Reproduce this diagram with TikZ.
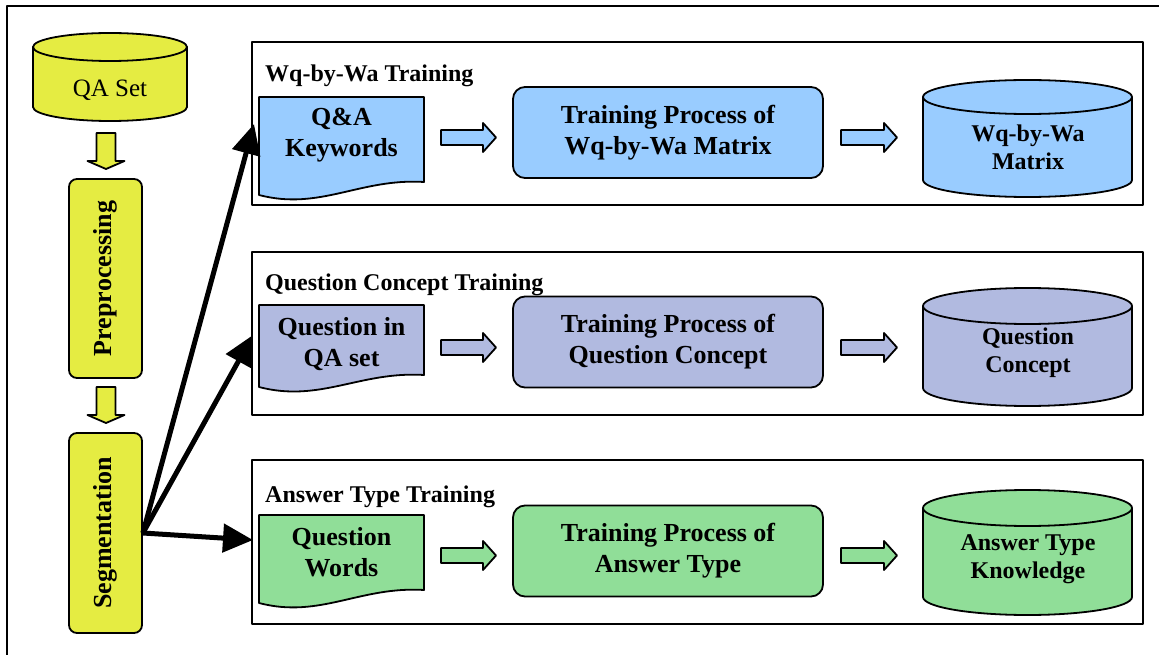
\documentclass[tikz,border=0pt]{standalone}
\usepackage{fontspec}
\setmainfont{Liberation Serif}
\usetikzlibrary{arrows.meta}
\definecolor{ylw}{RGB}{229,236,66}
\definecolor{blu}{RGB}{153,204,255}
\definecolor{lav}{RGB}{177,186,224}
\definecolor{grn}{RGB}{144,222,152}
\newcommand{\myboxfont}{\fontsize{26}{31}\selectfont\bfseries}
\newcommand{\mycylfont}{\fontsize{24}{28}\selectfont\bfseries}
\newcommand{\mytitlefont}{\fontsize{24}{28}\selectfont\bfseries}
\newcommand{\myqafont}{\fontsize{25}{29}\selectfont}
% cylinder: cx rx ytop ybottom ry colour
\newcommand{\mycyl}[6]{%
  \draw[shapeline, fill=#6] ({#1-#2},#3) -- ({#1-#2},#4) arc[start angle=180, end angle=0, x radius=#2, y radius=#5] -- ({#1+#2},#3);
  \draw[shapeline, fill=#6] (#1,#3) ellipse[x radius=#2, y radius=#5];}
% document shape: top, right-bottom, left-bottom, colour
\newcommand{\mydoc}[4]{%
  \draw[shapeline, fill=#4] (259,#1) -- (424,#1) -- (424,#2) .. controls (360,{#2-4}) and (320,{#3+16}) .. (259,#3) -- cycle;}
% right block arrow: x left, x tip, y centre, colour
\newcommand{\myrarrow}[4]{%
  \draw[shapeline, fill=#4] (#1,{#3-7.5}) -- ({#2-13},{#3-7.5}) -- ({#2-13},{#3-14.5}) -- (#2,#3) -- ({#2-13},{#3+14.5}) -- ({#2-13},{#3+7.5}) -- (#1,{#3+7.5}) -- cycle;}
% down block arrow: y top, y head, y tip
\newcommand{\mydarrow}[3]{%
  \draw[shapeline, fill=ylw] (96.5,#1) -- (115.5,#1) -- (115.5,#2) -- (124.5,#2) -- (106,#3) -- (87.5,#2) -- (96.5,#2) -- cycle;}
\tikzset{
  shapeline/.style={draw=black, line width=1.8},
  panel/.style={draw=black, line width=2, fill=white},
  proc/.style={shapeline, rounded corners=12, minimum width=310, minimum height=91, inner sep=0, align=center, font=\myboxfont},
  vbox/.style={shapeline, fill=ylw, rounded corners=8, minimum width=73, inner sep=0, font=\myboxfont},
  txt/.style={align=center, inner sep=0, font=\myboxfont},
  cyltxt/.style={align=center, inner sep=0, font=\mycylfont},
  ttl/.style={anchor=base west, inner sep=0, font=\mytitlefont},
  bigarrow/.style={line width=5, -{Triangle[length=30pt,width=28pt]}},
}
\begin{document}
\begin{tikzpicture}[x=1pt, y=-1pt, line join=round]
\useasboundingbox (0,0) rectangle (1159,655);
\clip (0,0) rectangle (1159,655);
\fill[white] (0,0) rectangle (1159,655);
\draw[line width=2] (7,6) rectangle (1220,720);

% ---------- left column ----------
\mycyl{110}{77}{47}{107}{14}{ylw}
\node[inner sep=0, font=\myqafont] (qa) at (110,90) {QA Set};
\mydarrow{133}{161}{169}
\node[vbox, minimum height=199] (pre) at (105.5,278.5) {\rotatebox{90}{Preprocessing}};
\mydarrow{387}{415}{423}
\node[vbox, minimum height=200] (seg) at (105.5,533) {\rotatebox{90}{Segmentation}};

% ---------- panel 1 ----------
\node[panel, anchor=north west, minimum width=891, minimum height=163] (pan1) at (251,41) {};
\node[ttl] (ttl1) at (265,82) {Wq-by-Wa Training};
\mydoc{97}{182}{195}{blu}
\node[txt] (d1) at (341.5,135.5) {Q\&A\\Keywords};
\myrarrow{441}{496}{137.5}{blu}
\node[proc, fill=blu] (tp1) at (668,132.5) {Training Process of\\Wq-by-Wa Matrix};
\myrarrow{841}{897}{137.5}{blu}
\mycyl{1027.5}{104.5}{97}{180}{17}{blu}
\node[cyltxt] (c1) at (1028,147.5) {Wq-by-Wa\\Matrix};

% ---------- panel 2 ----------
\node[panel, anchor=north west, minimum width=891, minimum height=163] (pan2) at (251,251) {};
\node[ttl] (ttl2) at (265,290) {Question Concept Training};
\mydoc{305}{375}{387}{lav}
\node[txt] (d2) at (341.5,344) {Question in\\QA set};
\myrarrow{441}{496}{347.5}{lav}
\node[proc, fill=lav] (tp2) at (668,342) {Training Process of\\Question Concept};
\myrarrow{841}{897}{347.5}{lav}
\mycyl{1027.5}{104.5}{306}{388}{18}{lav}
\node[cyltxt] (c2) at (1028,352.5) {Question\\Concept};

% ---------- panel 3 ----------
\node[panel, anchor=north west, minimum width=891, minimum height=164] (pan3) at (251,459) {};
\node[ttl] (ttl3) at (265,502) {Answer Type Training};
\mydoc{515}{590}{603}{grn}
\node[txt] (d3) at (341.5,552.5) {Question\\Words};
\myrarrow{441}{496}{555.5}{grn}
\node[proc, fill=grn] (tp3) at (668,551) {Training Process of\\Answer Type};
\myrarrow{841}{897}{555.5}{grn}
\mycyl{1027.5}{104.5}{508}{597}{18}{grn}
\node[cyltxt] (c3) at (1028,559) {Answer Type\\Knowledge};

% ---------- connectors ----------
\coordinate (tip1) at (254,124);
\coordinate (tip2) at (253,335);
\coordinate (tip3) at (253,540);
\draw[bigarrow] (seg.east) -- (tip1);
\draw[bigarrow] (seg.east) -- (tip2);
\draw[bigarrow] (seg.east) -- (tip3);
\end{tikzpicture}
\end{document}
